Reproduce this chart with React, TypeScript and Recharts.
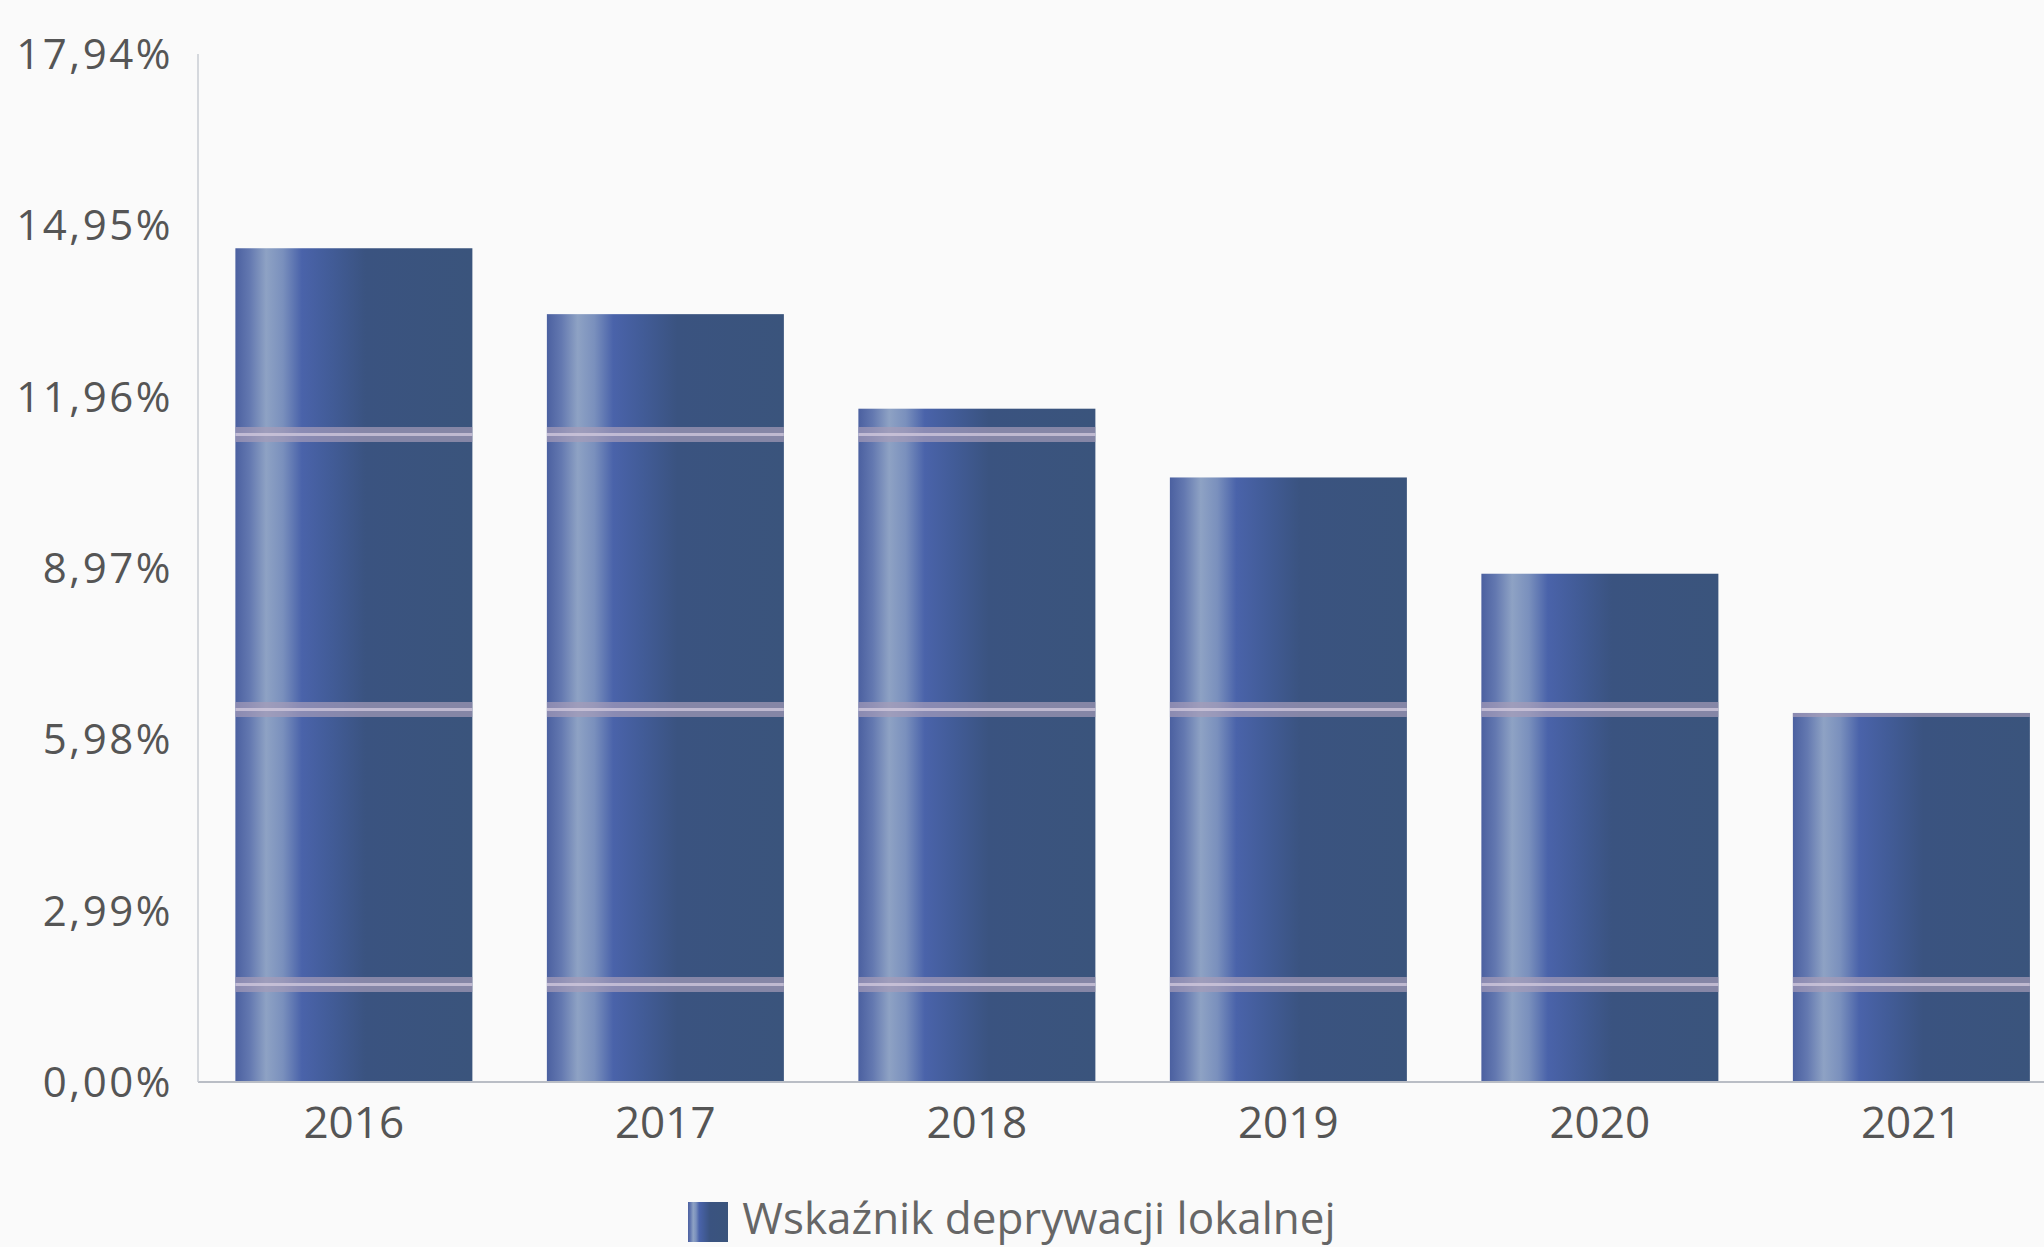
import { BarChart, Bar, XAxis, YAxis, Legend } from 'recharts';

const years = ['2016', '2017', '2018', '2019', '2020', '2021'];
const deprivation = [14.55, 13.4, 11.75, 10.55, 8.87, 6.44];
const yTicks = [0, 2.99, 5.98, 8.97, 11.96, 14.95, 17.94];

const data = years.map((year, i) => ({ year, value: deprivation[i] }));

const fmtPct = (v: number) => v.toFixed(2).replace('.', ',') + '%';

// bar body: gradient plus the faint horizontal bands visible on the print
function StripedBar(props: any) {
  const { x, y, width, height } = props;
  if (!height || height <= 0) return null;
  return (
    <g>
      <rect x={x} y={y} width={width} height={height} fill="url(#barGrad)" />
      <rect x={x} y={y} width={width} height={height} fill="url(#bands)" />
    </g>
  );
}

export default function App() {
  return (
    <div
      style={{
        position: 'absolute',
        left: 0,
        top: 0,
        width: 2044,
        height: 1247,
        overflow: 'hidden',
        background: '#fafafa',
        fontFamily: '"Open Sans", sans-serif',
      }}
    >
      <svg width={0} height={0} style={{ position: 'absolute' }}>
        <defs>
          <linearGradient id="barGrad" x1="0" y1="0" x2="1" y2="0">
            <stop offset="0%" stopColor="#4b60a0" />
            <stop offset="6%" stopColor="#6378b0" />
            <stop offset="13%" stopColor="#8ea2c4" />
            <stop offset="20%" stopColor="#7a90bd" />
            <stop offset="28%" stopColor="#4a63aa" />
            <stop offset="40%" stopColor="#425c98" />
            <stop offset="55%" stopColor="#3a5380" />
            <stop offset="100%" stopColor="#3a547c" />
          </linearGradient>
          <pattern id="bands" patternUnits="userSpaceOnUse" width={40} height={275} y={0}>
            <rect x={0} y={152} width={40} height={15} fill="#a59bb8" opacity={0.7} />
            <rect x={0} y={158} width={40} height={3} fill="#d2cbde" opacity={0.75} />
          </pattern>
        </defs>
      </svg>
      <BarChart
        width={2067}
        height={1247}
        data={data}
        margin={{ top: 54, right: 0, bottom: 0, left: 0 }}
        barCategoryGap="12%"
      >
        <XAxis
          dataKey="year"
          height={105}
          tickLine={false}
          tickSize={0}
          tickMargin={25}
          axisLine={{ stroke: '#b9bdc5', strokeWidth: 2 }}
          tick={{ fill: '#555', fontSize: 44 }}
        />
        <YAxis
          width={198}
          domain={[0, 17.94]}
          ticks={yTicks}
          tickFormatter={fmtPct}
          tickLine={false}
          tickSize={0}
          tickMargin={25}
          axisLine={{ stroke: '#c8ccd3', strokeWidth: 1.5 }}
          tick={{ fill: '#555', fontSize: 42, letterSpacing: 2.5 }}
        />
        <Legend
          verticalAlign="bottom"
          iconType="square"
          iconSize={40}
          wrapperStyle={{ left: 0, width: 2034, fontSize: 44 }}
          formatter={(value: string) => (
            <span style={{ color: '#666', marginLeft: 10 }}>{value}</span>
          )}
        />
        <Bar
          dataKey="value"
          name="Wskaźnik deprywacji lokalnej"
          fill="url(#barGrad)"
          shape={StripedBar}
          isAnimationActive={false}
        />
      </BarChart>
    </div>
  );
}
